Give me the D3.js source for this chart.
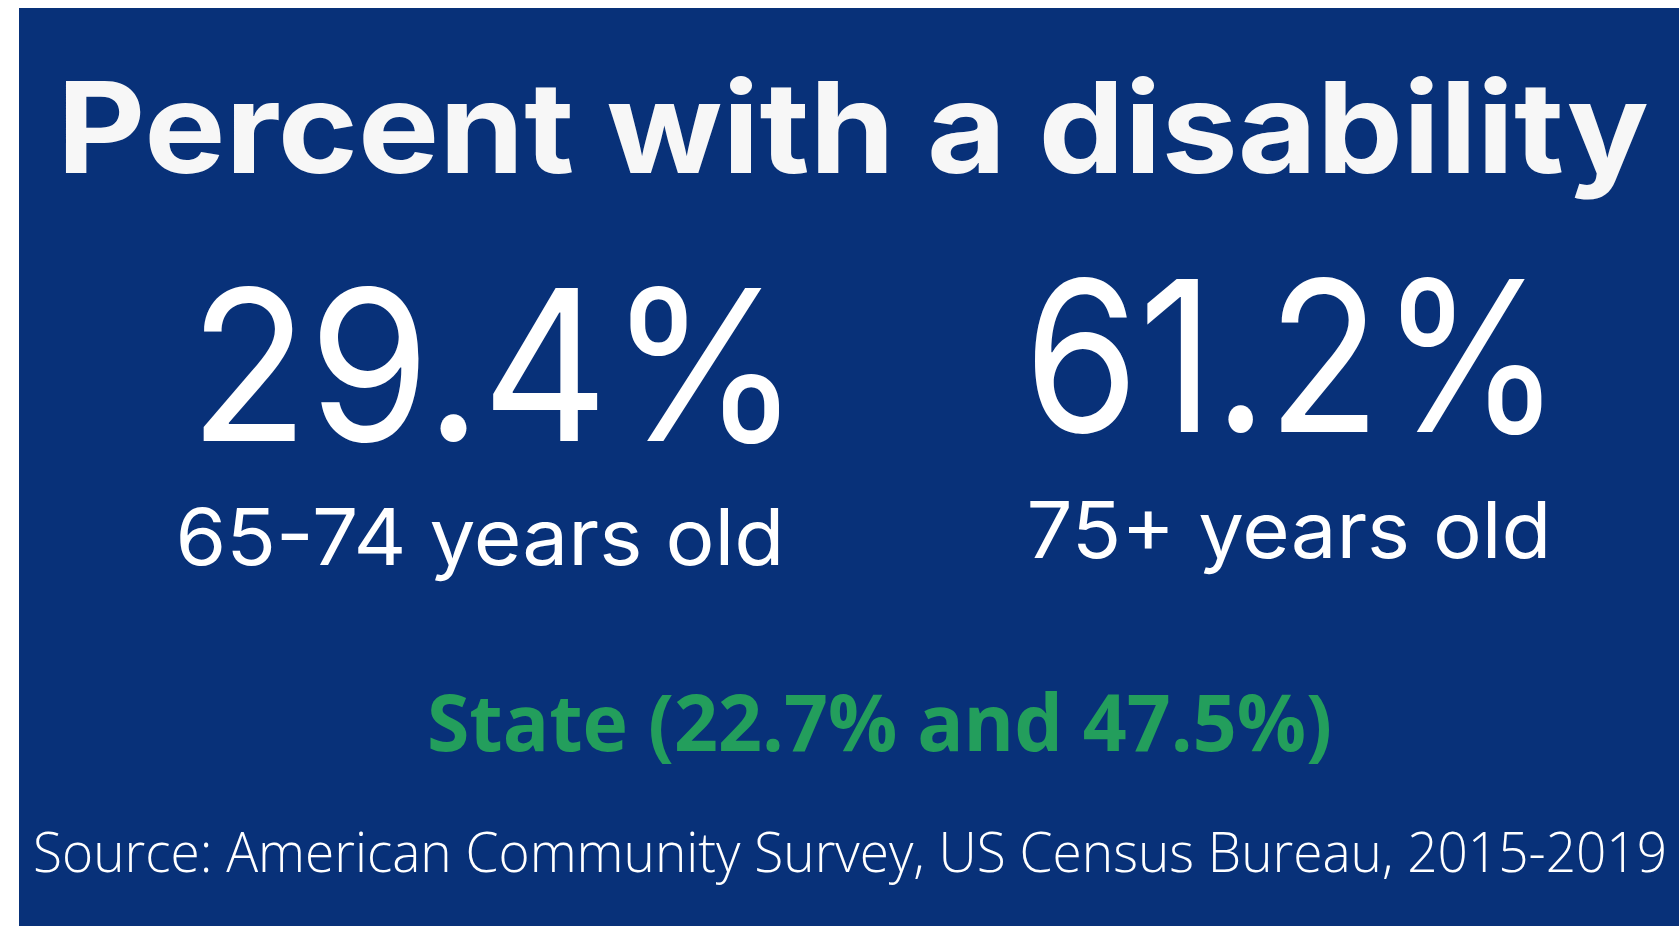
<!DOCTYPE html>
<html>
<head>
<meta charset="utf-8">
<script src="https://cdn.jsdelivr.net/npm/d3@7"></script>
<style>
  html, body { margin: 0; padding: 0; background: #ffffff; }
  svg { display: block; }
</style>
</head>
<body>
<svg id="chart" width="1679" height="926"></svg>
<script>
// ---- data ----
const titleText = "Percent with a disability";
const ageGroups = ["65-74 years old", "75+ years old"];
const countyValues = [29.4, 61.2];
const stateValues = [22.7, 47.5];
const sourceText = "Source: American Community Survey, US Census Bureau, 2015-2019";

// ---- layout ----
const W = 1679, H = 926;
const bg = "#083179";
const svg = d3.select("#chart");

svg.append("rect")
  .attr("x", 19).attr("y", 8)
  .attr("width", W - 19).attr("height", H - 8)
  .attr("fill", bg);

const geo = "Inter, 'Open Sans', sans-serif";
const sans = "'Open Sans', sans-serif";

// Title
svg.append("text")
  .attr("x", 57).attr("y", 173)
  .attr("font-family", geo)
  .attr("font-weight", 700)
  .attr("font-size", 127)
  .attr("fill", "#f7f7f7")
  .attr("textLength", 1592)
  .attr("lengthAdjust", "spacingAndGlyphs")
  .text(titleText);

// column positions through a point scale
const x = d3.scalePoint().domain(ageGroups).range([495, 1293]);
const fmt = d => d3.format(".1f")(d) + "%";

const numWidths = [612, 538];
const numBase = [441, 432];
const subWidths = [609, 525];
const subBase = [565, 558];
const subShift = [-15, -4];

const cols = svg.selectAll("g.col")
  .data(ageGroups.map((g, i) => ({g, v: countyValues[i], i})))
  .join("g").attr("class", "col");

cols.append("text")
  .attr("x", d => x(d.g))
  .attr("y", d => numBase[d.i])
  .attr("text-anchor", "middle")
  .attr("font-family", geo)
  .attr("font-weight", 400)
  .attr("font-size", 210)
  .attr("fill", "#ffffff")
  .attr("textLength", d => numWidths[d.i])
  .attr("lengthAdjust", "spacingAndGlyphs")
  .text(d => fmt(d.v));

cols.append("text")
  .attr("x", d => x(d.g) + subShift[d.i])
  .attr("y", d => subBase[d.i])
  .attr("text-anchor", "middle")
  .attr("font-family", geo)
  .attr("font-weight", 400)
  .attr("font-size", 78)
  .attr("fill", "#ffffff")
  .attr("textLength", d => subWidths[d.i])
  .attr("lengthAdjust", "spacingAndGlyphs")
  .text(d => d.g);

// State comparison
svg.append("text")
  .attr("x", 427).attr("y", 751)
  .attr("font-family", sans)
  .attr("font-weight", 700)
  .attr("font-size", 78)
  .attr("fill", "#239e5c")
  .attr("textLength", 905)
  .attr("lengthAdjust", "spacingAndGlyphs")
  .text(`State (${fmt(stateValues[0])} and ${fmt(stateValues[1])})`);

// Source
svg.append("text")
  .attr("x", 33).attr("y", 872)
  .attr("font-family", sans)
  .attr("font-weight", 300)
  .attr("font-size", 55)
  .attr("fill", "#ffffff")
  .attr("textLength", 1634)
  .attr("lengthAdjust", "spacingAndGlyphs")
  .text(sourceText);
</script>
</body>
</html>
